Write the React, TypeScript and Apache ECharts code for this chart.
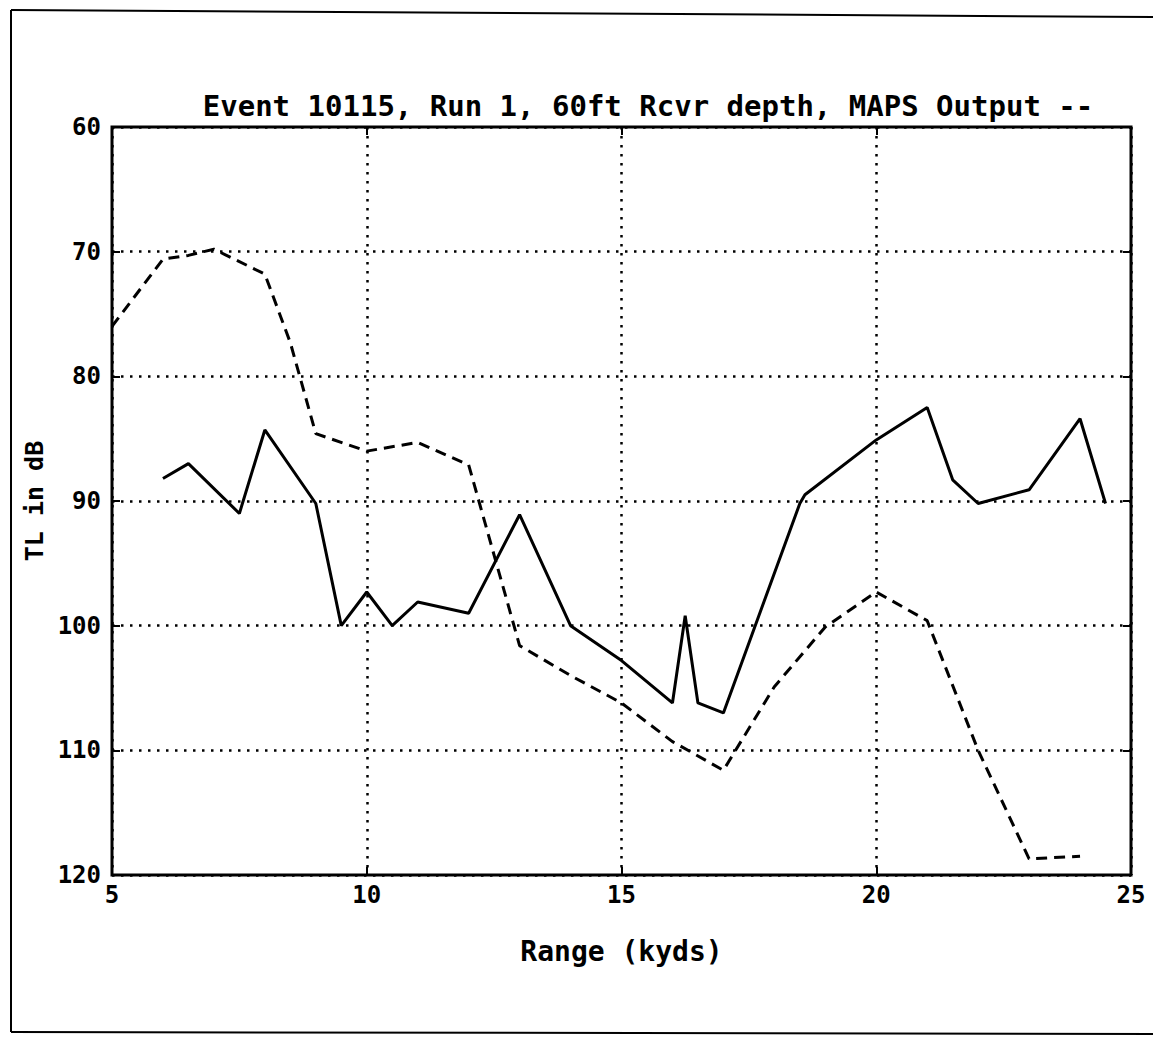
import React, { useEffect, useRef } from "react";
import * as echarts from "echarts";

const solidRange = [6, 6.5, 7.5, 8, 9, 9.5, 10, 10.5, 11, 12, 13, 14, 15, 16, 16.25, 16.5, 17, 18.5, 18.6, 20, 21, 21.5, 22, 23, 24, 24.5];
const solidTL = [88.2, 87, 91, 84.3, 90.2, 100, 97.3, 100, 98.1, 99, 91.1, 100, 102.8, 106.2, 99.2, 106.2, 107, 90.2, 89.5, 85.1, 82.5, 88.3, 90.2, 89.1, 83.4, 90.2];
const dashedRange = [5, 6, 6.5, 7, 8, 8.5, 9, 10, 11, 12, 13, 14, 15, 16, 17, 18, 19, 20, 21, 22, 23, 24];
const dashedTL = [76, 70.6, 70.3, 69.8, 71.8, 77.3, 84.6, 86, 85.3, 87.1, 101.6, 104, 106.2, 109.3, 111.6, 104.9, 100.1, 97.3, 99.6, 110, 118.7, 118.5];

const xTicks = [5, 10, 15, 20, 25];
const yTicks = [60, 70, 80, 90, 100, 110, 120];

const titleText = "Event 10115, Run 1, 60ft Rcvr depth, MAPS Output --";
const xName = "Range (kyds)";
const yName = "TL in dB";

const FONT = "'DejaVu Sans Mono', monospace";

export default function App() {
  const ref = useRef<HTMLDivElement>(null);
  useEffect(() => {
    document.body.style.margin = "0";
    const chart = echarts.init(ref.current!, null, { renderer: "svg" });
    const pair = (xs: number[], ys: number[]) => xs.map((x, i) => [x, ys[i]]);
    const dotted = { show: true, lineStyle: { color: "#000", type: [2.5, 6.5], width: 2.5 } };
    chart.setOption({
      animation: false,
      backgroundColor: "#fff",
      title: {
        text: titleText,
        left: 643,
        top: 86,
        textAlign: "center",
        textStyle: { fontFamily: FONT, fontWeight: "bold", fontSize: 29, color: "#000" },
      },
      grid: {
        left: 112,
        right: 22,
        top: 127,
        bottom: 165,
        show: true,
        borderColor: "#000",
        borderWidth: 3,
        backgroundColor: "transparent",
      },
      xAxis: [
        {
          type: "value",
          min: xTicks[0],
          max: xTicks[xTicks.length - 1],
          interval: 5,
          position: "bottom",
          axisLine: { show: false },
          axisTick: { show: true, inside: true, length: 8, lineStyle: { color: "#000", width: 2 } },
          axisLabel: {
            margin: 8,
            fontFamily: FONT,
            fontWeight: "bold",
            fontSize: 24,
            color: "#000",
          },
          splitLine: dotted,
          name: xName,
          nameLocation: "middle",
          nameGap: 62,
          nameTextStyle: { fontFamily: FONT, fontWeight: "bold", fontSize: 28, color: "#000" },
        },
        {
          type: "value",
          min: xTicks[0],
          max: xTicks[xTicks.length - 1],
          interval: 5,
          position: "top",
          axisLine: { show: false },
          axisTick: { show: true, inside: true, length: 8, lineStyle: { color: "#000", width: 2 } },
          axisLabel: { show: false },
          splitLine: { show: false },
        },
      ],
      yAxis: [
        {
          type: "value",
          inverse: true,
          min: yTicks[0],
          max: yTicks[yTicks.length - 1],
          interval: 10,
          position: "left",
          axisLine: { show: false },
          axisTick: { show: true, inside: true, length: 8, lineStyle: { color: "#000", width: 2 } },
          axisLabel: {
            margin: 11,
            fontFamily: FONT,
            fontWeight: "bold",
            fontSize: 24,
            color: "#000",
          },
          splitLine: dotted,
          name: yName,
          nameLocation: "middle",
          nameGap: 62,
          nameRotate: 90,
          nameTextStyle: { fontFamily: FONT, fontWeight: "bold", fontSize: 25, color: "#000" },
        },
        {
          type: "value",
          inverse: true,
          min: yTicks[0],
          max: yTicks[yTicks.length - 1],
          interval: 10,
          position: "right",
          axisLine: { show: false },
          axisTick: { show: true, inside: true, length: 8, lineStyle: { color: "#000", width: 2 } },
          axisLabel: { show: false },
          splitLine: { show: false },
        },
      ],
      series: [
        {
          type: "line",
          name: "solid",
          data: pair(solidRange, solidTL),
          showSymbol: false,
          symbol: "none",
          lineStyle: { color: "#000", width: 3, type: "solid" },
        },
        {
          type: "line",
          name: "dashed",
          data: pair(dashedRange, dashedTL),
          showSymbol: false,
          symbol: "none",
          lineStyle: { color: "#000", width: 3, type: [11, 7] },
        },
      ],
      graphic: [
        { type: "line", shape: { x1: 11, y1: 10, x2: 1153, y2: 17 }, style: { stroke: "#000", lineWidth: 2 } },
        { type: "line", shape: { x1: 11, y1: 10, x2: 11, y2: 1032 }, style: { stroke: "#000", lineWidth: 2 } },
        { type: "line", shape: { x1: 11, y1: 1032, x2: 1153, y2: 1034 }, style: { stroke: "#000", lineWidth: 2 } },
      ],
    });
    return () => chart.dispose();
  }, []);
  return <div ref={ref} style={{ width: 1153, height: 1040 }} />;
}
